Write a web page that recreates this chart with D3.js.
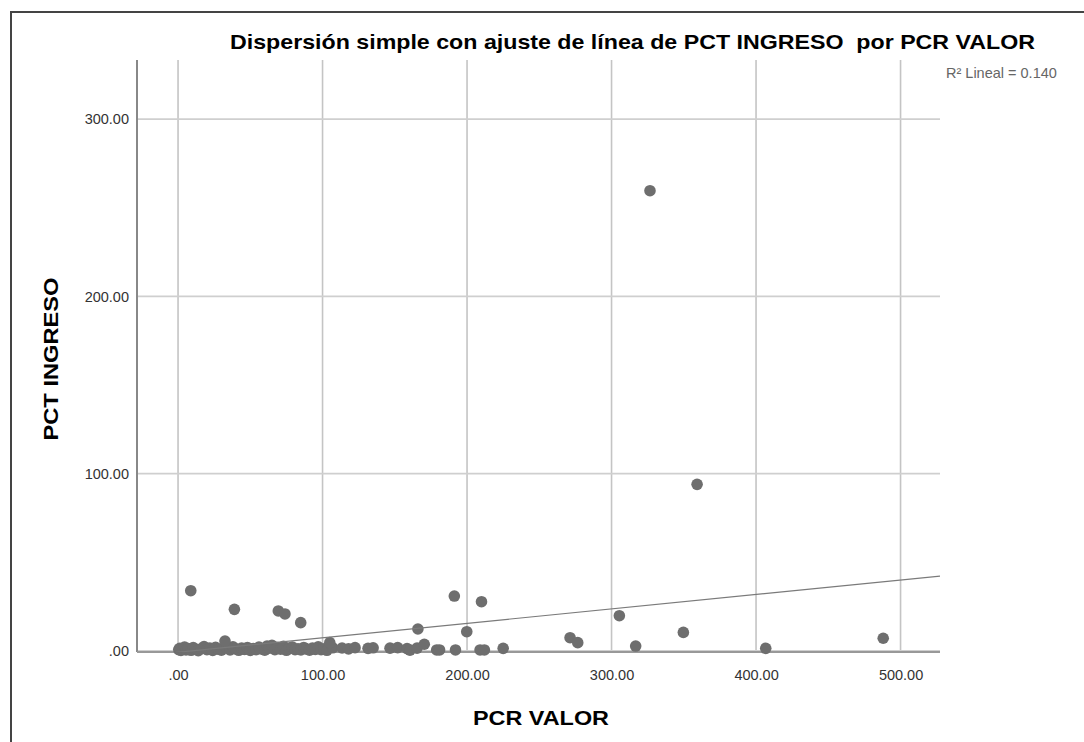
<!DOCTYPE html>
<html>
<head>
<meta charset="utf-8">
<script src="https://cdn.jsdelivr.net/npm/d3@7"></script>
<style>
  body { margin: 0; background: #fff; }
  text { font-family: "Liberation Sans", Arial, sans-serif; }
</style>
</head>
<body>
<div class="visualisation"></div>
<script>
// PCR VALOR (x) and PCT INGRESO (y)
var pcrValor = [
  0.5, 1.2, 2, 3, 4.5, 5.5, 7, 9, 10.5, 12, 14, 16, 18, 20, 22, 24, 26, 28, 30, 34,
  36, 38, 40, 42, 44, 46, 48, 50, 52, 54, 56, 58, 60, 61.6, 63, 65, 67, 69, 71, 73,
  75, 77, 79, 81, 83, 85, 87, 89, 91, 93, 95, 97, 99, 101, 103, 107, 113.5, 118, 122.5, 131.5,
  135, 146.7, 152, 158.5, 160.5, 165.4, 179, 181, 192, 209, 212, 225,
  8.8, 39, 69.4, 74, 84.9, 32.5, 105, 166, 170.4, 199.8, 191.2, 210, 271.3, 276.6,
  305.4, 316.7, 349.7, 406.7, 488, 359.2, 326.6
];
var pctIngreso = [
  0.8, 1.5, 0.3, 1.1, 2.2, 0.6, 1.4, 0.4, 1.9, 0.9, 0.2, 1.3, 2.5, 0.7, 1.6, 0.3, 2.1, 1.0, 0.5, 1.8,
  0.6, 2.4, 1.2, 0.4, 1.7, 0.9, 2.0, 0.3, 1.4, 0.8, 2.2, 1.1, 0.5, 2.8, 1.6, 3.2, 0.7, 1.9, 1.0, 2.6,
  0.4, 1.5, 2.3, 0.8, 1.3, 0.6, 2.0, 1.1, 0.5, 1.7, 0.9, 2.4, 0.7, 1.3, 0.4, 1.8, 1.7, 1.2, 1.9, 1.5,
  1.8, 1.6, 1.9, 1.4, 0.5, 1.6, 0.6, 0.6, 0.6, 0.6, 0.6, 1.5,
  34, 23.5, 22.6, 20.9, 16, 5.6, 4.7, 12.4, 3.8, 10.9, 31, 27.8, 7.5, 4.7,
  19.9, 2.8, 10.5, 1.5, 7.2, 94, 259.6
];
var xTicks = [0, 100, 200, 300, 400, 500];
var yTicks = [0, 100, 200, 300];
var fitIntercept = -0.7, fitSlope = 0.0815;
var r2Label = "R\u00b2 Lineal = 0.140";

var W = 1084, H = 742;
var margin = {top: 60, right: 144, bottom: 90, left: 137};
var width = W - margin.left - margin.right,
    height = 652 - margin.top;

var svg = d3.select(".visualisation").append("svg")
    .attr("width", W)
    .attr("height", H);

// outer frame
svg.append("path")
    .attr("d", "M11," + H + "V12H" + W)
    .attr("fill", "none")
    .attr("stroke", "#444")
    .attr("stroke-width", 2);

var g = svg.append("g")
    .attr("transform", "translate(" + margin.left + "," + margin.top + ")");

var x = d3.scaleLinear().domain([-28.4, 527.3]).range([0, width]);
var y = d3.scaleLinear().domain([-0.56, 333.3]).range([height, 0]);

var fmt = function(d){ return d === 0 ? ".00" : d.toFixed(2); };

// grid
g.selectAll(".vgrid").data(xTicks).enter().append("line")
    .attr("x1", d => x(d)).attr("x2", d => x(d))
    .attr("y1", 0).attr("y2", height)
    .attr("stroke", "#c4c4c4").attr("stroke-width", 1.6);
g.selectAll(".hgrid").data(yTicks).enter().append("line")
    .attr("x1", 0).attr("x2", width)
    .attr("y1", d => y(d)).attr("y2", d => y(d))
    .attr("stroke", "#cfcfcf").attr("stroke-width", 1.8);

// axes
g.append("line").attr("x1", 0).attr("x2", 0).attr("y1", 0).attr("y2", height)
    .attr("stroke", "#888").attr("stroke-width", 2);
g.append("line").attr("x1", 0).attr("x2", width).attr("y1", height).attr("y2", height)
    .attr("stroke", "#999").attr("stroke-width", 2);

var xAxis = g.append("g")
    .attr("transform", "translate(0," + height + ")")
    .call(d3.axisBottom(x).tickValues(xTicks).tickFormat(fmt).tickSize(0).tickPadding(18));
var yAxis = g.append("g")
    .call(d3.axisLeft(y).tickValues(yTicks).tickFormat(fmt).tickSize(0).tickPadding(8));
[xAxis, yAxis].forEach(function(a){
  a.select(".domain").remove();
  a.selectAll("text").attr("fill", "#333").style("font-size", "14.5px")
    .style("font-family", "'Liberation Sans', Arial, sans-serif");
});

// points
var pts = pcrValor.map((v, i) => ({x: v, y: pctIngreso[i]}));
g.selectAll("circle").data(pts).enter().append("circle")
    .attr("cx", d => x(d.x))
    .attr("cy", d => y(d.y))
    .attr("r", 5.8)
    .attr("fill", "#6e6e6e");

// fit line, clipped to plot
g.append("clipPath").attr("id", "clip").append("rect")
    .attr("width", width).attr("height", height);
var xd = x.domain();
g.append("line")
    .attr("clip-path", "url(#clip)")
    .attr("x1", x(xd[0])).attr("y1", y(fitIntercept + fitSlope * xd[0]))
    .attr("x2", x(xd[1])).attr("y2", y(fitIntercept + fitSlope * xd[1]))
    .attr("stroke", "#7a7a7a").attr("stroke-width", 1.2);

// labels
svg.append("text")
    .attr("x", 230).attr("y", 49)
    .attr("textLength", 805).attr("lengthAdjust", "spacingAndGlyphs")
    .style("white-space", "pre")
    .style("font-size", "21px").style("font-weight", "bold").attr("fill", "#000")
    .text("Dispersión simple con ajuste de línea de PCT INGRESO  por PCR VALOR");

svg.append("text")
    .attr("x", 946).attr("y", 78)
    .style("font-size", "14.5px").attr("fill", "#666")
    .text(r2Label);

svg.append("text")
    .attr("x", 541).attr("y", 725).attr("text-anchor", "middle")
    .attr("textLength", 136).attr("lengthAdjust", "spacingAndGlyphs")
    .style("font-size", "20px").style("font-weight", "bold")
    .text("PCR VALOR");

svg.append("text")
    .attr("transform", "translate(58,359) rotate(-90)").attr("text-anchor", "middle")
    .attr("textLength", 163).attr("lengthAdjust", "spacingAndGlyphs")
    .style("font-size", "20px").style("font-weight", "bold")
    .text("PCT INGRESO");
</script>
</body>
</html>
